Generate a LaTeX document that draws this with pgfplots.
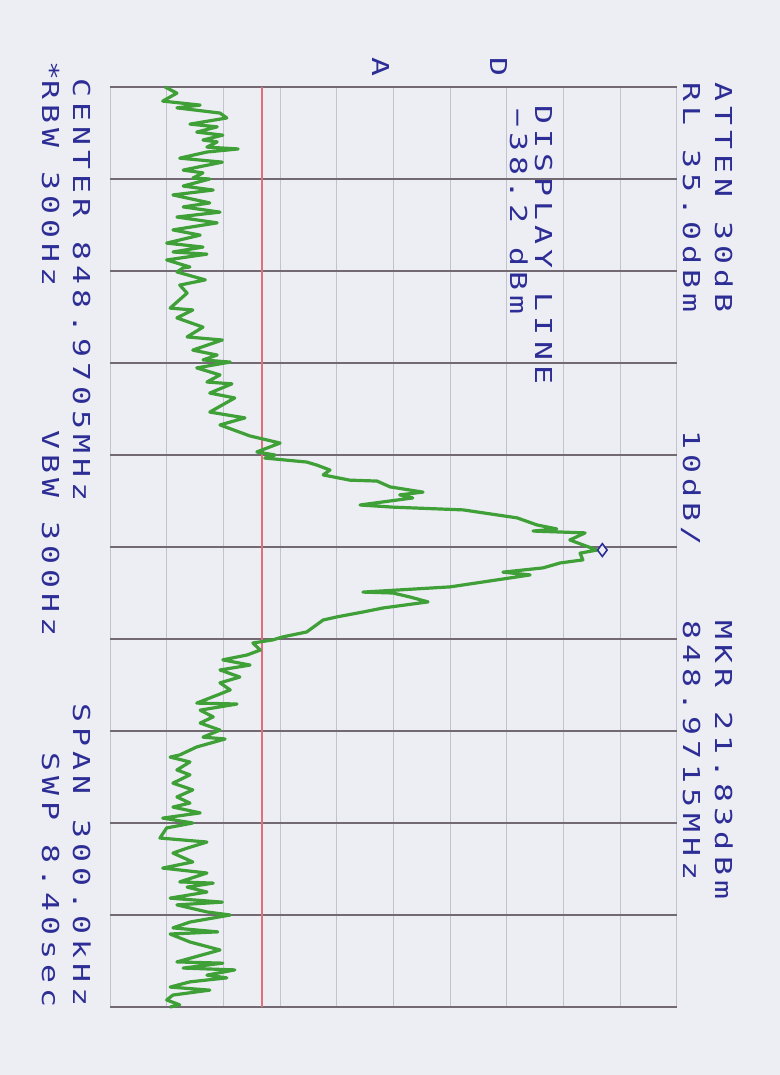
\documentclass[border=0pt]{standalone}
\usepackage{pgfplots}
\pgfplotsset{compat=1.18}
\usepackage{fontspec}
\newfontfamily\plotfont{DejaVu Sans Mono}[FakeStretch=1.35,LetterSpace=22]

\definecolor{paper}{RGB}{237,237,244}
\definecolor{ink}{RGB}{45,45,150}
\definecolor{trace}{RGB}{62,160,55}
\definecolor{gridlt}{RGB}{195,195,205}
\definecolor{griddk}{RGB}{115,105,115}
\definecolor{dline}{RGB}{225,110,120}

% trace: amplitude (dBm) against offset from centre (kHz)
\pgfplotstableread{
dbm khz
-55.3 -150.0
-53.2 -148.0
-55.7 -145.4
-49.1 -144.1
-53.2 -143.2
-45.6 -141.5
-44.4 -139.9
-50.9 -137.9
-46.1 -137.0
-49.7 -135.3
-45.1 -134.3
-48.6 -132.7
-46.1 -132.1
-47.9 -130.4
-42.4 -129.8
-47.9 -128.8
-52.7 -126.8
-45.2 -125.5
-52.1 -122.9
-48.6 -122.0
-50.4 -120.3
-47.4 -120.0
-52.1 -117.7
-46.8 -116.4
-53.9 -114.8
-47.4 -112.2
-52.1 -110.9
-45.6 -109.2
-53.2 -107.6
-46.1 -105.7
-53.9 -103.4
-49.1 -101.7
-55.0 -99.1
-48.6 -97.8
-53.9 -96.2
-47.9 -95.5
-55.0 -93.6
-50.9 -91.3
-52.1 -91.0
-53.2 -89.7
-48.2 -87.1
-52.7 -85.4
-51.4 -82.8
-54.4 -77.9
-50.4 -77.3
-53.2 -74.7
-48.6 -71.7
-51.4 -68.5
-45.2 -67.5
-50.4 -64.2
-46.1 -62.6
-48.6 -61.0
-43.8 -60.3
-49.7 -58.4
-45.6 -56.1
-47.9 -53.8
-43.5 -53.2
-47.4 -50.2
-43.0 -48.6
-47.4 -44.0
-41.2 -42.1
-45.6 -39.8
-40.3 -36.2
-35.0 -33.9
-39.1 -31.0
-35.9 -30.0
-37.7 -29.0
-30.3 -27.7
-28.5 -26.7
-26.2 -25.1
-27.4 -23.5
-22.7 -21.8
-17.9 -21.5
-15.6 -19.6
-9.8 -17.9
-13.9 -17.0
-11.6 -16.0
-20.9 -13.7
-15.1 -13.0
-2.7 -12.1
6.8 -9.5
10.3 -7.2
13.8 -5.9
9.6 -5.2
18.8 -4.6
16.1 -2.3
18.4 -0.7
20.9 1.0
17.9 2.0
18.4 4.2
14.4 5.2
11.4 6.8
4.3 8.2
9.1 9.1
0.8 11.4
-5.0 13.0
-20.4 14.7
-15.1 15.0
-12.1 16.3
-8.9 17.9
-16.9 19.9
-20.4 21.2
-25.0 22.8
-27.4 23.8
-30.3 27.7
-34.5 29.3
-36.3 30.3
-39.8 31.3
-38.5 33.6
-40.8 35.2
-45.1 36.8
-40.3 38.5
-45.6 40.1
-42.1 42.4
-45.6 44.3
-43.8 46.6
-46.1 48.3
-49.7 50.9
-42.6 51.2
-49.1 53.2
-46.8 55.4
-49.1 57.4
-45.6 59.7
-48.6 62.0
-44.7 62.6
-49.7 65.2
-52.7 67.8
-54.4 68.5
-50.9 70.1
-53.2 72.7
-50.9 74.3
-53.9 77.0
-50.4 79.2
-53.2 81.5
-50.9 83.5
-53.9 84.8
-49.1 86.7
-55.7 88.4
-50.4 90.0
-55.0 91.6
-56.2 94.9
-47.9 96.2
-51.4 98.2
-53.9 99.8
-50.4 102.7
-55.7 104.7
-47.9 106.3
-52.7 109.2
-46.8 109.6
-51.4 110.9
-47.9 112.5
-54.4 114.5
-45.2 115.8
-53.2 116.7
-47.9 119.0
-43.8 120.0
-50.9 122.3
-53.9 124.2
-46.0 125.5
-54.4 126.2
-50.9 128.8
-45.6 131.4
-53.2 135.3
-45.1 135.7
-52.1 137.3
-43.0 137.9
-47.9 139.6
-44.4 140.5
-50.9 141.8
-54.4 143.5
-47.4 144.5
-53.9 146.1
-55.0 147.7
-52.7 149.3
-54.4 150.0
}\tracedata

\begin{document}
\begin{tikzpicture}
\path[use as bounding box] (0,0) rectangle (390pt,537.5pt);
\fill[paper] (0,0) rectangle (390pt,537.5pt);
\begin{axis}[
  at={(55pt,34pt)}, anchor=south west,
  width=283.5pt, height=460pt, scale only axis,
  xmin=-65, xmax=35, ymin=-150, ymax=150,
  y dir=reverse,
  xtick={-65,-55,...,35}, ytick={-150,-120,...,150},
  xticklabels={}, yticklabels={},
  major tick length=0pt,
  grid=major,
  x grid style={gridlt, line width=0.5pt},
  y grid style={griddk, line width=0.8pt},
  axis line style={draw=none},
  clip=false]
  \addplot[dline, line width=0.6pt] coordinates {(-38.2,-150) (-38.2,150)};
  \addplot[trace, line width=1.6pt, line join=round] table[x=dbm, y=khz] {\tracedata};
  \addplot[only marks, mark=diamond*, mark size=3.2pt, ink, line width=0.8pt,
    mark options={fill=paper}] coordinates {(21.83,1.0)};
\end{axis}
\begin{scope}[every node/.style={rotate=-90, inner sep=0pt, text=ink,
    font=\plotfont\fontsize{11.66pt}{14pt}\selectfont}]
\node[anchor=base west] at (357.5pt,496.5pt) {ATTEN 30dB};
\node[anchor=base west] at (341.5pt,496.5pt) {RL 35.0dBm};
\node[anchor=base west] at (341.5pt,322.5pt) {10dB/};
\node[anchor=base west] at (357.5pt,227.5pt) {MKR 21.83dBm};
\node[anchor=base west] at (341.5pt,227.5pt) {848.9715MHz};
\node[anchor=base west] at (267.5pt,485pt) {DISPLAY LINE};
\node[anchor=base west] at (255pt,483.5pt) {−38.2 dBm};
\node[anchor=base west] at (36.5pt,498.5pt) {CENTER 848.9705MHz};
\node[anchor=base west] at (21pt,497.5pt) {\llap{*}RBW 300Hz};
\node[anchor=base west] at (21pt,322.5pt) {VBW 300Hz};
\node[anchor=base east] at (36.5pt,34pt) {SPAN 300.0kHz};
\node[anchor=base east] at (21pt,33.5pt) {SWP 8.40sec};
\node[anchor=base west] at (186pt,509pt) {A};
\node[anchor=base west] at (245pt,509pt) {D};
\end{scope}
\end{tikzpicture}
\end{document}
